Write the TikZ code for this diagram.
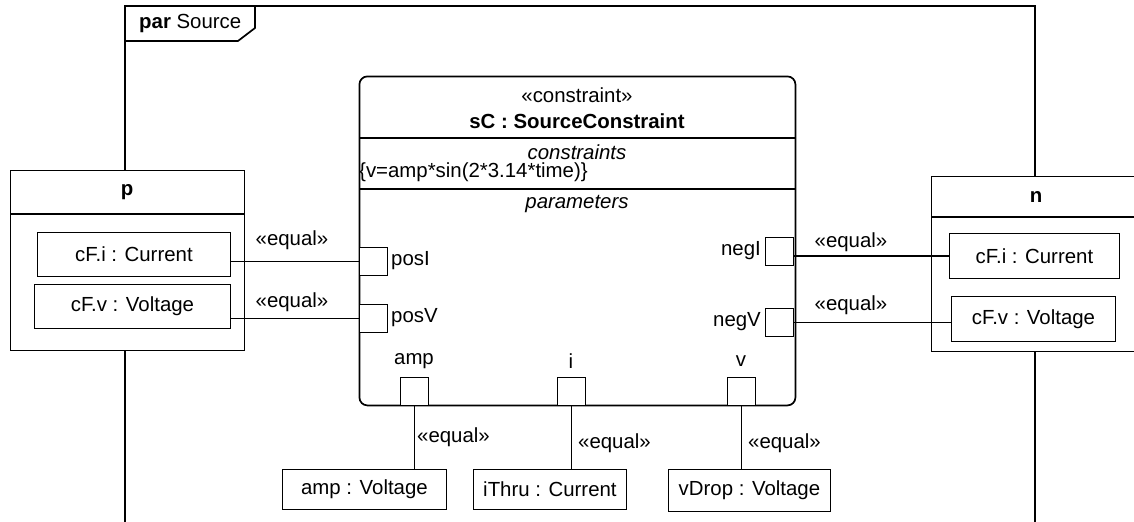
\documentclass[tikz,border=0pt]{standalone}
\usepackage{fontspec}
\setmainfont{Liberation Sans}
\begin{document}
\begin{tikzpicture}[x=1pt,y=-1pt,scale=0.5,transform shape,
  every node/.style={font=\fontsize{20.4}{24}\selectfont},
  ln/.style={line width=0.85pt},
  box/.style={draw,fill=white,line width=0.85pt,inner sep=0pt,anchor=north west},
  port/.style={draw,fill=white,line width=0.85pt,inner sep=0pt,anchor=north west,minimum width=28pt,minimum height=28pt},
  lbl/.style={inner sep=0pt}]
\useasboundingbox (0,0) rectangle (1134,522);
\clip (0,0) rectangle (1134,522);
% frame
\draw[ln] (125,560) -- (125,6) -- (1035,6) -- (1035,560);
\draw[ln] (125,41) -- (238,41) -- (255,28) -- (255,6);
\node[lbl,anchor=west] (title) at (139,24) {\textbf{par} Source};
% p block
\node[box,minimum width=234pt,minimum height=180pt] (p) at (10,170) {};
\draw[ln] (10,214) -- (244,214);
\node[lbl] (ptxt) at (127,192) {\textbf{p}};
\node[box,minimum width=193pt,minimum height=44pt] (pI) at (37,232) {cF.i : Current};
\node[box,minimum width=196pt,minimum height=44pt] (pV) at (34,284) {cF.v : Voltage};
% n block
\node[box,minimum width=208pt,minimum height=175pt] (n) at (931,176) {};
\draw[ln] (931,217) -- (1139,217);
\node[lbl] (ntxt) at (1036,197) {\textbf{n}};
\node[box,minimum width=170pt,minimum height=45pt] (nI) at (949,233) {cF.i : Current};
\node[box,minimum width=164pt,minimum height=45pt] (nV) at (951,296) {cF.v : Voltage};
% constraint block
\node[draw,line width=0.85pt,rounded corners=4pt,inner sep=0pt,anchor=north west,minimum width=436pt,minimum height=329pt] (sC) at (359,76) {};
\draw[ln] (359,138) -- (795,138);
\draw[ln] (359,189) -- (795,189);
\node[lbl] (st) at (577,95) {«constraint»};
\node[lbl] (nm) at (577,121) {\textbf{sC : SourceConstraint}};
\node[lbl] (ct) at (577,152) {\textit{constraints}};
\node[lbl,anchor=west] (fm) at (359,172) {\{v=amp*sin(2*3.14*time)\}};
\node[lbl] (pt) at (577,204) {\textit{parameters}};
% ports
\node[port] (posI) at (359,247) {};
\node[port] (posV) at (359,304) {};
\node[port] (negI) at (765,237) {};
\node[port] (negV) at (765,308) {};
\node[port] (amp) at (400,377) {};
\node[port] (i) at (557,377) {};
\node[port] (v) at (727,377) {};
\node[lbl,anchor=west] at (391,261) {posI};
\node[lbl,anchor=west] at (391,318) {posV};
\node[lbl,anchor=east] at (761,251) {negI};
\node[lbl,anchor=east] at (761,322) {negV};
\node[lbl] at (414,361) {amp};
\node[lbl] at (571,361) {i};
\node[lbl] at (741,361) {v};
% bottom value boxes
\node[box,minimum width=164pt,minimum height=40pt] (ampV) at (282,469) {amp : Voltage};
\node[box,minimum width=153pt,minimum height=40pt] (iThru) at (473,469) {iThru : Current};
\node[box,minimum width=162pt,minimum height=42pt] (vDrop) at (668,469) {vDrop : Voltage};
% connectors
\draw[ln] (posI.west) -- (posI.west -| pI.east);
\draw[ln] (posV.west) -- (posV.west -| pV.east);
\draw[ln] (nI.west) -- (nI.west -| negI.east);
\draw[ln] (negV.east) -- (negV.east -| nV.west);
\draw[ln] (amp.south) -- (amp.south |- ampV.north);
\draw[ln] (i.south) -- (i.south |- iThru.north);
\draw[ln] (v.south) -- (v.south |- vDrop.north);
\node[lbl] (e1) at (292,240) {«equal»};
\node[lbl] (e2) at (292,302) {«equal»};
\node[lbl] (e3) at (851,242) {«equal»};
\node[lbl] (e4) at (851,305) {«equal»};
\node[lbl,anchor=west] (e5) at (417,437) {«equal»};
\node[lbl,anchor=west] (e6) at (578,443) {«equal»};
\node[lbl,anchor=west] (e7) at (748,443) {«equal»};
\end{tikzpicture}
\end{document}
